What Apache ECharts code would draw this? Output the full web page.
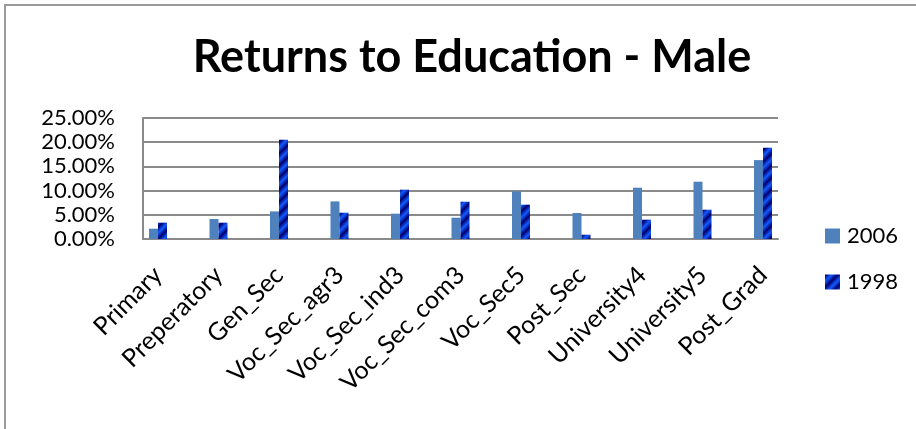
<!DOCTYPE html>
<html>
<head>
<meta charset="utf-8">
<script src="https://cdn.jsdelivr.net/npm/echarts@6/dist/echarts.min.js"></script>
<style>
html,body{margin:0;padding:0;background:#fff;}
#chart{width:916px;height:429px;}
</style>
</head>
<body>
<div id="chart"></div>
<script>
const categories = ['Primary','Preperatory','Gen_Sec','Voc_Sec_agr3','Voc_Sec_ind3','Voc_Sec_com3','Voc_Sec5','Post_Sec','University4','University5','Post_Grad'];
const values2006 = [0.0213,0.0413,0.057,0.0777,0.0523,0.044,0.0984,0.0537,0.106,0.1184,0.163];
const values1998 = [0.0337,0.0337,0.205,0.0543,0.1019,0.077,0.0709,0.0089,0.0399,0.0605,0.1886];
const yTicks = [0,0.05,0.10,0.15,0.20,0.25];
const seriesNames = ['2006','1998'];

function makePattern(){
  const P = 12;
  const c = document.createElement('canvas');
  c.width = P; c.height = P;
  const ctx = c.getContext('2d');
  const img = ctx.createImageData(P,P);
  const dark = [0,0,110], bright = [20,90,255];
  for(let y=0;y<P;y++){
    for(let x=0;x<P;x++){
      const t = ((x+y)%P)/P;
      const w = 1 - Math.abs(2*t-1);
      const i = (y*P+x)*4;
      for(let k=0;k<3;k++) img.data[i+k] = Math.round(dark[k]+(bright[k]-dark[k])*w);
      img.data[i+3] = 255;
    }
  }
  ctx.putImageData(img,0,0);
  return c;
}
const pattern = {image: makePattern(), repeat: 'repeat'};

const FONT = 'Lato';
const chart = echarts.init(document.getElementById('chart'));
chart.setOption({
  animation:false,
  backgroundColor:'#fff',
  title:{
    text:'Returns to Education - Male',
    left:467, top:30, textAlign:'center',
    textStyle:{fontFamily:FONT,fontWeight:'bold',fontSize:45,color:'#000'}
  },
  legend:{
    orient:'vertical', left:825, top:225, padding:0,
    itemWidth:15, itemHeight:15, itemGap:24,
    icon:'rect',
    textStyle:{fontFamily:FONT,fontSize:22,color:'#000',padding:[0,0,0,2]},
    data:seriesNames
  },
  graphic:[{
    type:'polyline',
    shape:{points:[[5,440],[5,5],[930,5]]},
    style:{stroke:'#9a9a9a',lineWidth:2,fill:null},
    silent:true
  }],
  grid:[
    {left:143,right:138,top:118,bottom:190},
    {left:127.75,right:122.75,top:118,bottom:190}
  ],
  xAxis:[
    {type:'category',gridIndex:0,data:categories,
     axisLine:{show:true,lineStyle:{color:'#8a8a8a',width:2}},
     axisTick:{show:false},axisLabel:{show:false},splitLine:{show:false}},
    {type:'category',gridIndex:1,data:categories,
     axisLine:{show:false},axisTick:{show:false},
     axisLabel:{rotate:45,margin:32,interval:0,fontFamily:FONT,fontSize:25,color:'#000'}}
  ],
  yAxis:[
    {type:'value',gridIndex:0,min:0,max:0.25,interval:0.05,
     axisLine:{show:true,lineStyle:{color:'#8a8a8a',width:2}},
     axisTick:{show:false},
     splitLine:{show:true,lineStyle:{color:'#8a8a8a',width:2}},
     axisLabel:{margin:28,fontFamily:FONT,fontSize:22,color:'#000',
       formatter:v=>(v*100).toFixed(2)+'%'}},
    {type:'value',gridIndex:1,min:0,max:0.25,interval:0.05,show:false}
  ],
  series:[
    {name:seriesNames[0],type:'bar',xAxisIndex:1,yAxisIndex:1,data:values2006,
     barWidth:9,barGap:'0%',itemStyle:{color:'#4f81bd'}},
    {name:seriesNames[1],type:'bar',xAxisIndex:1,yAxisIndex:1,data:values1998,
     barWidth:9,barGap:'0%',itemStyle:{color:pattern}}
  ]
});
</script>
</body>
</html>
